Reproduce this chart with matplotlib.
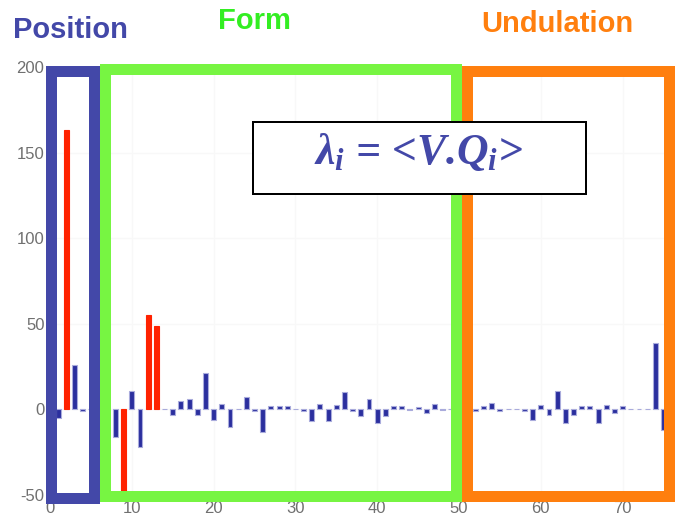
import numpy as np
import matplotlib
matplotlib.use("Agg")
import matplotlib.pyplot as plt
from matplotlib.patches import Rectangle

# Coefficients lambda_i for i = 1..75
idx = list(range(1, 76))
coef = [-5, 163, 26, -1, 0, 0, 0, -16, -50, 11,
        -22, 55, 49, 0.5, -3, 5, 6, -3, 21, -6,
        3, -10, 0.5, 7, -1, -13, 2, 2, 2, 0.5,
        -1, -7, 3, -7, 2.5, 10, -1, -4, 6, -8,
        -4, 2, 2, -0.5, 1.5, -2, 3, -0.5, 0, 0,
        -1, -1, 2, 4, -1, 0.5, 0.5, -1, -6, 2.5,
        -3, 11, -8, -3, 2, 2, -8, 2.5, -2, 2,
        0.5, 0.5, 0.5, 39, -12]
red_idx = [2, 9, 12, 13]

xticks = [0, 10, 20, 30, 40, 50, 60, 70]
yticks = [-50, 0, 50, 100, 150, 200]

groups = ["Position", "Form", "Undulation"]
group_text_col = ["#4348a8", "#33ee22", "#ff7f0e"]
group_box_col = ["#4348a8", "#77f542", "#ff7f0e"]

plt.rcParams['font.family'] = ['Liberation Sans', 'DejaVu Sans']
plt.rcParams['axes.unicode_minus'] = False
plt.rcParams['mathtext.fontset'] = 'custom'
plt.rcParams['mathtext.rm'] = 'Liberation Serif:bold:italic'
plt.rcParams['mathtext.it'] = 'Liberation Serif:bold:italic'

W, H = 675, 520
fig = plt.figure(figsize=(W / 100, H / 100), dpi=100)
ax = fig.add_axes([50 / W, 1 - 495 / H, 621.7 / W, 428 / H])

colors = ["#ff2200" if i in red_idx else "#2b2f9e" for i in idx]
edges = ["#ff2200" if i in red_idx else "#a9abdc" for i in idx]
ax.bar(idx, coef, width=0.6, color=colors, edgecolor=edges, linewidth=0.8)

ax.set_xlim(0, 76)
ax.set_ylim(-50, 200)
ax.set_xticks(xticks)
ax.set_yticks(yticks)
ax.tick_params(length=0, labelsize=12, labelcolor="#707070", pad=4)
ax.grid(True, color="#f8f8f8", linewidth=1)
ax.set_axisbelow(True)
for s in ax.spines.values():
    s.set_visible(False)


def px_rect(x0, y0, x1, y1, color, lw_px, fill=False, face="none", z=5):
    r = Rectangle((x0 / W, 1 - y1 / H), (x1 - x0) / W, (y1 - y0) / H,
                  transform=fig.transFigure, fill=fill, facecolor=face,
                  edgecolor=color, linewidth=lw_px * 0.72, zorder=z)
    fig.patches.append(r)


# coloured group boxes (pixel coords, top-left origin)
px_rect(51, 70.5, 93.5, 497.5, group_box_col[0], 11)
px_rect(105, 69, 455.5, 496, group_box_col[1], 11)
px_rect(467.5, 71, 669.5, 496, group_box_col[2], 11)

# group titles
fig.text(70 / W, 1 - 30 / H, groups[0], color=group_text_col[0],
         fontsize=21, fontweight="bold", ha="center", va="center")
fig.text(254 / W, 1 - 21 / H, groups[1], color=group_text_col[1],
         fontsize=21, fontweight="bold", ha="center", va="center")
fig.text(557 / W, 1 - 24 / H, groups[2], color=group_text_col[2],
         fontsize=21, fontweight="bold", ha="center", va="center")

# formula box
px_rect(253, 122, 586, 194, "black", 2, fill=True, face="white", z=6)
fig.text(418 / W, 1 - 152 / H, r"$\lambda_i$ = <V.$Q_i$>", color="#4348a8",
         family="Liberation Serif", fontweight="bold", style="italic",
         fontsize=31.5, ha="center", va="center", zorder=7)

fig.savefig("out.png", dpi=100)
